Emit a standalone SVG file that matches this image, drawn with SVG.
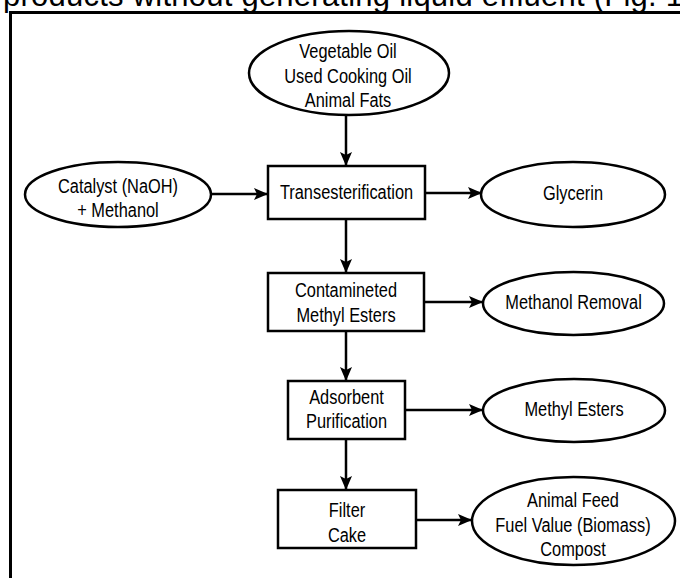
<svg xmlns="http://www.w3.org/2000/svg" width="680" height="578" viewBox="0 0 680 578">
<style>
.shape{fill:#fff;stroke:#000;stroke-width:2.5}
.lbl{font-family:"Liberation Sans",Arial,sans-serif;font-size:21px;fill:#000;text-anchor:middle}
.con{stroke:#000;stroke-width:2.5;fill:none;marker-end:url(#ah)}
</style>
<defs>
<marker id="ah" markerUnits="userSpaceOnUse" markerWidth="15" markerHeight="12" refX="14" refY="6" orient="auto">
<path d="M0,0 L14,6 L0,12 L3,6 z" fill="#000"/>
</marker>
</defs>
<rect width="680" height="578" fill="#fff"/>
<text x="3" y="5.5" font-family="Liberation Sans, Arial, sans-serif" font-size="31" textLength="680" lengthAdjust="spacing">products without generating liquid effluent (Fig. 1</text>
<path d="M10.5,578 V12.5 H680" fill="none" stroke="#000" stroke-width="3"/>
<g id="connectors">
<line class="con" x1="346" y1="115" x2="346" y2="166"/>
<line class="con" x1="212" y1="194" x2="268" y2="194"/>
<line class="con" x1="425" y1="193" x2="482" y2="193"/>
<line class="con" x1="346" y1="219" x2="346" y2="273"/>
<line class="con" x1="424" y1="302" x2="483" y2="302"/>
<line class="con" x1="346" y1="331" x2="346" y2="381"/>
<line class="con" x1="405" y1="410" x2="483" y2="410"/>
<line class="con" x1="346" y1="439" x2="346" y2="490"/>
<line class="con" x1="416" y1="520" x2="472" y2="520"/>
</g>
<g id="feedstock">
<ellipse class="shape" cx="349" cy="73" rx="100" ry="42"/>
<g transform="translate(348 0) scale(0.78 1)">
<text class="lbl" x="0" y="58">Vegetable Oil</text>
<text class="lbl" x="0" y="83">Used Cooking Oil</text>
<text class="lbl" x="0" y="107">Animal Fats</text>
</g>
</g>
<g id="catalyst">
<ellipse class="shape" cx="118" cy="194.5" rx="93" ry="32.5"/>
<g transform="translate(118 0) scale(0.78 1)">
<text class="lbl" x="0" y="193">Catalyst (NaOH)</text>
<text class="lbl" x="0" y="217">+ Methanol</text>
</g>
</g>
<g id="transesterification">
<rect class="shape" x="268" y="166" width="157" height="53"/>
<g transform="translate(346.5 0) scale(0.78 1)">
<text class="lbl" x="0" y="199">Transesterification</text>
</g>
</g>
<g id="glycerin">
<ellipse class="shape" cx="573" cy="194.5" rx="92" ry="32.5"/>
<g transform="translate(573 0) scale(0.78 1)">
<text class="lbl" x="0" y="200">Glycerin</text>
</g>
</g>
<g id="contaminated">
<rect class="shape" x="268" y="273" width="156" height="58"/>
<g transform="translate(346 0) scale(0.78 1)">
<text class="lbl" x="0" y="297">Contamineted</text>
<text class="lbl" x="0" y="322">Methyl Esters</text>
</g>
</g>
<g id="methanol-removal">
<ellipse class="shape" cx="573.5" cy="303.5" rx="90.5" ry="31.5"/>
<g transform="translate(573.5 0) scale(0.78 1)">
<text class="lbl" x="0" y="309">Methanol Removal</text>
</g>
</g>
<g id="adsorbent">
<rect class="shape" x="288" y="381" width="117" height="58"/>
<g transform="translate(346.5 0) scale(0.78 1)">
<text class="lbl" x="0" y="404">Adsorbent</text>
<text class="lbl" x="0" y="428">Purification</text>
</g>
</g>
<g id="methyl-esters">
<ellipse class="shape" cx="574" cy="410.5" rx="91" ry="31.5"/>
<g transform="translate(574 0) scale(0.78 1)">
<text class="lbl" x="0" y="416">Methyl Esters</text>
</g>
</g>
<g id="filter-cake">
<rect class="shape" x="278" y="490" width="138" height="58"/>
<g transform="translate(347 0) scale(0.78 1)">
<text class="lbl" x="0" y="517">Filter</text>
<text class="lbl" x="0" y="542">Cake</text>
</g>
</g>
<g id="byproducts">
<ellipse class="shape" cx="573.5" cy="521" rx="101.5" ry="44"/>
<g transform="translate(573 0) scale(0.78 1)">
<text class="lbl" x="0" y="507">Animal Feed</text>
<text class="lbl" x="0" y="532">Fuel Value (Biomass)</text>
<text class="lbl" x="0" y="556">Compost</text>
</g>
</g>
</svg>
